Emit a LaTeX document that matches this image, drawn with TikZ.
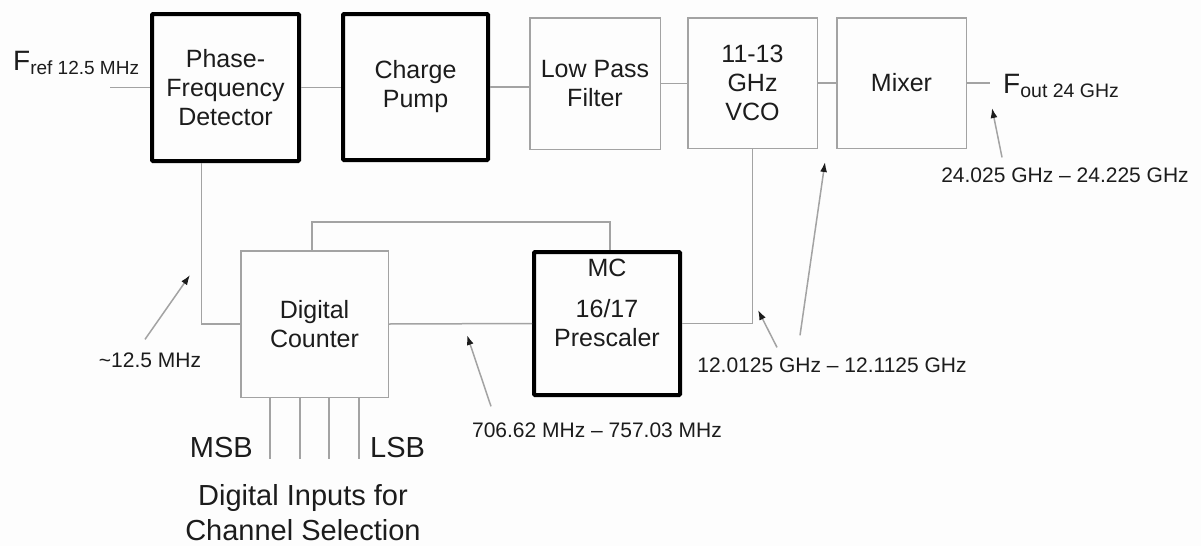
\documentclass[tikz,border=0pt]{standalone}
\usepackage{fontspec}
\setmainfont{Liberation Sans}
\usepackage{tikz}
\usetikzlibrary{arrows.meta,calc,positioning}
\definecolor{ink}{HTML}{1C1C1C}
\definecolor{wireGrey}{HTML}{A3A3A3}
\definecolor{paper}{HTML}{FDFDFD}

\tikzset{
  blockthin/.style={draw=wireGrey, line width=1.5pt, align=center, text=ink,
    font=\fontsize{25}{29}\selectfont, inner sep=0pt},
  blockthick/.style={blockthin, draw=black, line width=4pt, rounded corners=1pt},
  wire/.style={draw=wireGrey, line width=1.5pt},
  pointer/.style={wire, -{Latex[length=10pt,width=7pt,color=ink]}},
  lbl/.style={text=ink, font=\fontsize{21}{25}\selectfont, inner sep=0pt},
  bitlbl/.style={text=ink, font=\fontsize{29}{35}\selectfont, inner sep=0pt, align=center},
}

\begin{document}
\begin{tikzpicture}[x=1pt, y=1pt]
  \fill[paper] (0,0) rectangle (1201,-546);
  \useasboundingbox (0,0) rectangle (1201,-546);

  % forward path
  \node[blockthick, minimum width=147, minimum height=147] (pfd) at (225.5,-87.5) {Phase-\\Frequency\\Detector};
  \node[blockthick, minimum width=145, minimum height=146] (cp) at (415.5,-87) {Charge\\Pump};
  \node[blockthin, minimum width=130.5, minimum height=131.5] (lpf) at (595,-83.5) {Low Pass\\Filter};
  \node[blockthin, minimum width=129.5, minimum height=130.5] (vco) at (752.5,-83) {11-13\\GHz\\VCO};
  \node[blockthin, minimum width=129.5, minimum height=130.5] (mix) at (901.5,-83) {Mixer};

  % feedback path
  \node[blockthin, minimum width=147.5, minimum height=146.5] (dc) at (314.5,-324) {Digital\\Counter};
  \node[blockthick, minimum width=146, minimum height=143,
        label={[blockthin, draw=none, anchor=north, yshift=-8]north:MC}] (pre) at (607,-323.5) {16/17\\Prescaler};

  % in / out
  \node[anchor=base west, inner sep=0pt, text=ink] (fref) at (13,-70)
    {\fontsize{28}{28}\selectfont F\raisebox{-4pt}{\fontsize{19}{19}\selectfont ref 12.5 MHz}};
  \coordinate (refin) at (110,-87.5);
  \node[anchor=base west, inner sep=0pt, text=ink] (fout) at (1003,-93)
    {\fontsize{28}{28}\selectfont F\raisebox{-4pt}{\fontsize{19.5}{19.5}\selectfont out 24 GHz}};
  \coordinate (outend) at (990,-83);

  \draw[wire] (refin) -- (pfd.west);
  \draw[wire] (pfd.east) -- (pfd.east -| cp.west);
  \draw[wire] (cp.east) -- (cp.east -| lpf.west);
  \draw[wire] (lpf.east) -- (lpf.east -| vco.west);
  \draw[wire] (vco.east) -- (vco.east -| mix.west);
  \draw[wire] (mix.east) -- (outend);

  \draw[wire] ([xshift=-24]pfd.south) |- (dc.west);
  \draw[wire] ([xshift=-2.5]dc.north) -- ++(0,28) -| ([xshift=3]pre.north);
  \draw[wire] (dc.east) -- (pre.west);
  \draw[wire] (pre.east) -| (vco.south);

  % channel select bits
  \foreach \dx in {-44.5,-14.5,14.5,44.5}
    \draw[wire] ([xshift=\dx]dc.south) -- ++(0,-61);
  \node[bitlbl, anchor=base east] (msb) at (253,-457) {MSB};
  \node[bitlbl, anchor=base west] (lsb) at (370,-457) {LSB};
  \node[bitlbl] (chsel) at (303,-513) {Digital Inputs for\\Channel Selection};

  % frequency labels
  \node[lbl] (fpd) at (150,-360) {\textasciitilde12.5 MHz};
  \coordinate (fpdtip) at (190,-275);
  \draw[pointer] ([shift={(-5,13)}]fpd.north) -- (fpdtip);

  \node[lbl] (fpre) at (597,-430) {706.62 MHz -- 757.03 MHz};
  \coordinate (fpretip) at (467,-335);
  \draw[pointer] ([shift={(-106,16)}]fpre.north) -- (fpretip);

  \node[lbl] (fvco) at (832,-365) {12.0125 GHz -- 12.1125 GHz};
  \coordinate (fvcotipa) at (758,-310);
  \coordinate (fvcotipb) at (825,-162);
  \draw[pointer] ([shift={(-55,10)}]fvco.north) -- (fvcotipa);
  \draw[pointer] ([shift={(-32,22)}]fvco.north) -- (fvcotipb);

  \node[lbl] (fmix) at (1065,-175) {24.025 GHz -- 24.225 GHz};
  \coordinate (fmixtip) at (992,-108);
  \draw[pointer] ([shift={(-63,10)}]fmix.north) -- (fmixtip);
\end{tikzpicture}
\end{document}
